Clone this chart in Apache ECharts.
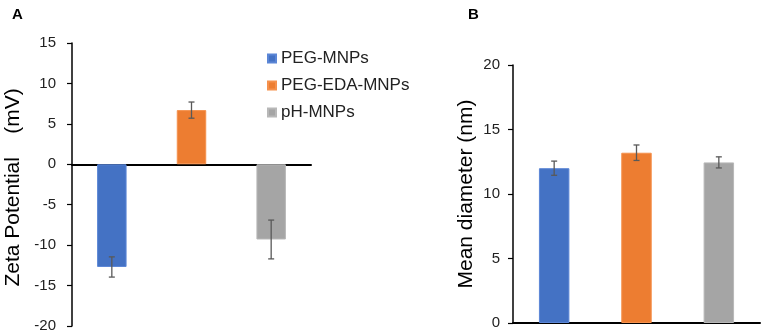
<!DOCTYPE html>
<html>
<head>
<meta charset="utf-8">
<script src="https://cdn.jsdelivr.net/npm/echarts@6/dist/echarts.min.js"></script>
<style>
  html, body { margin: 0; padding: 0; background: #fff; }
  #chart { width: 765px; height: 335px; }
</style>
</head>
<body>
<div id="chart"></div>
<script>
// 样品名称
const samples = ['PEG-MNPs', 'PEG-EDA-MNPs', 'pH-MNPs'];
const colors = ['#4472C4', '#ED7D31', '#A5A5A5'];
const borders = ['#5B86D6', '#F5914D', '#B8B8B8'];

// A: zeta potential (mV)
const zetaMean = [-12.7, 6.7, -9.3];
const zetaErr = [1.25, 1.0, 2.4];

// B: mean diameter (nm)
const diamMean = [12.0, 13.2, 12.45];
const diamErr = [0.55, 0.6, 0.43];

const font = 'Liberation Sans, Arial, sans-serif';

// 误差线
function errorSeries(means, errs, axisIdx) {
  const data = means.map((m, i) => [i, m - errs[i], m + errs[i]]);
  return {
    type: 'custom',
    xAxisIndex: axisIdx,
    yAxisIndex: axisIdx,
    silent: true,
    z: 10,
    data: data,
    renderItem: function (params, api) {
      const lo = api.coord([api.value(0), api.value(1)]);
      const hi = api.coord([api.value(0), api.value(2)]);
      const w = 3;
      const style = { stroke: '#595959', lineWidth: 1.3 };
      return {
        type: 'group',
        children: [
          { type: 'line', shape: { x1: lo[0], y1: lo[1], x2: hi[0], y2: hi[1] }, style: style },
          { type: 'line', shape: { x1: lo[0] - w, y1: lo[1], x2: lo[0] + w, y2: lo[1] }, style: style },
          { type: 'line', shape: { x1: hi[0] - w, y1: hi[1], x2: hi[0] + w, y2: hi[1] }, style: style }
        ]
      };
    }
  };
}

// 柱子：每个样品一个系列，重叠放置，便于图例
function barSeries(means, axisIdx, named) {
  return samples.map((name, i) => ({
    type: 'bar',
    name: named ? name : name + ' ',
    xAxisIndex: axisIdx,
    yAxisIndex: axisIdx,
    barWidth: '37%',
    barGap: '-100%',
    itemStyle: { color: colors[i], borderColor: borders[i], borderWidth: 1 },
    data: means.map((v, j) => (j === i ? v : null))
  }));
}

const yAxisCommon = {
  type: 'value',
  splitLine: { show: false },
  axisLine: { show: true, lineStyle: { color: '#000', width: 1.5 } },
  axisTick: { show: true, length: 5, lineStyle: { color: '#000', width: 1.2 } },
  axisLabel: { color: '#222', fontSize: 15, fontFamily: font },
  nameLocation: 'middle',
  nameTextStyle: { color: '#000', fontSize: 21, fontFamily: font }
};

const xAxisCommon = {
  type: 'category',
  data: samples,
  axisTick: { show: false },
  axisLabel: { show: false },
  axisLine: { lineStyle: { color: '#000', width: 2 } }
};

const option = {
  animation: false,
  backgroundColor: '#fff',
  textStyle: { fontFamily: font },
  title: [
    { text: 'A', left: 7, top: 2, textStyle: { fontSize: 15, fontWeight: 'bold', color: '#000', fontFamily: font } },
    { text: 'B', left: 463, top: 2, textStyle: { fontSize: 15, fontWeight: 'bold', color: '#000', fontFamily: font } }
  ],
  legend: {
    data: samples,
    orient: 'vertical',
    left: 262,
    top: 45,
    itemWidth: 8,
    itemHeight: 8,
    itemGap: 10,
    icon: 'rect',
    textStyle: { fontSize: 17, color: '#222', fontFamily: font }
  },
  grid: [
    { left: 72, top: 43, width: 239, height: 283 },
    { left: 513, top: 65, width: 247, height: 258 }
  ],
  xAxis: [
    Object.assign({}, xAxisCommon, { gridIndex: 0 }),
    Object.assign({}, xAxisCommon, { gridIndex: 1 })
  ],
  yAxis: [
    Object.assign({}, yAxisCommon, {
      gridIndex: 0, min: -20, max: 15, interval: 5,
      axisLabel: Object.assign({}, yAxisCommon.axisLabel, { margin: 16 }),
      name: 'Zeta Potential    (mV) ', nameGap: 48
    }),
    Object.assign({}, yAxisCommon, {
      gridIndex: 1, min: 0, max: 20, interval: 5,
      axisLabel: Object.assign({}, yAxisCommon.axisLabel, { margin: 13 }),
      name: 'Mean diameter (nm)', nameGap: 36
    })
  ],
  series: [].concat(
    barSeries(zetaMean, 0, true),
    barSeries(diamMean, 1, false),
    [errorSeries(zetaMean, zetaErr, 0), errorSeries(diamMean, diamErr, 1)]
  )
};

const myChart = echarts.init(document.getElementById('chart'));
myChart.setOption(option);
</script>
</body>
</html>
